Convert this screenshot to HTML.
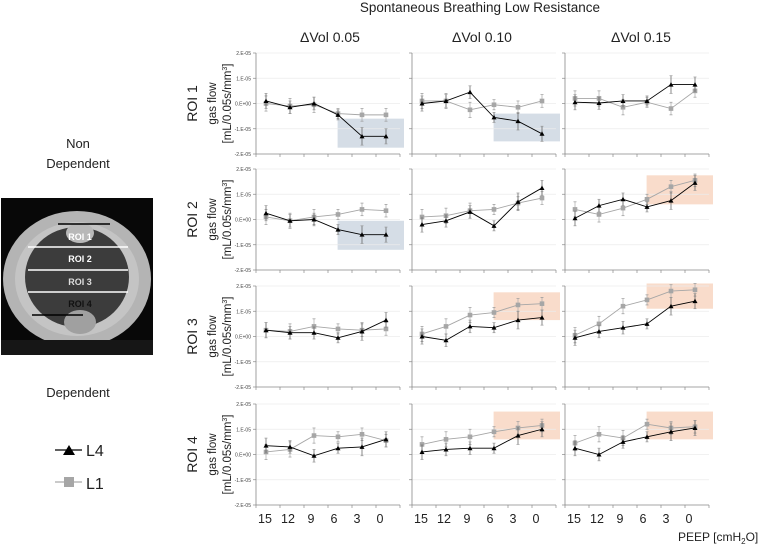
<!DOCTYPE html>
<html><head><meta charset="utf-8"><style>
body{margin:0;background:#fff;width:758px;height:548px;overflow:hidden;font-family:"Liberation Sans",sans-serif}
svg text{font-family:"Liberation Sans",sans-serif}
</style></head><body>
<svg id="fig" width="758" height="548" xmlns="http://www.w3.org/2000/svg">
<text x="480" y="12" font-size="13.5" text-anchor="middle" fill="#222">Spontaneous Breathing Low Resistance</text>
<text x="330" y="42" font-size="14" text-anchor="middle" fill="#222">ΔVol 0.05</text>
<text x="482" y="42" font-size="14" text-anchor="middle" fill="#222">ΔVol 0.10</text>
<text x="641" y="42" font-size="14" text-anchor="middle" fill="#222">ΔVol 0.15</text>
<text x="78" y="148" font-size="13" text-anchor="middle" fill="#222">Non</text>
<text x="78" y="168" font-size="13" text-anchor="middle" fill="#222">Dependent</text>
<text x="78" y="397" font-size="13" text-anchor="middle" fill="#222">Dependent</text>
<g>
<rect x="1" y="198" width="152" height="157" fill="#080808"/>
<ellipse cx="77" cy="279" rx="74" ry="68" fill="#b4b4b4"/>
<ellipse cx="77" cy="279" rx="62" ry="57" fill="#c4c4c4"/>
<ellipse cx="77" cy="277" rx="52" ry="50" fill="#3c3c3c"/>
<ellipse cx="80" cy="233" rx="14" ry="10" fill="#b8b8b8"/>
<ellipse cx="80" cy="322" rx="16" ry="12" fill="#a0a0a0"/>
<rect x="1" y="340" width="152" height="15" fill="#161616"/>
<line x1="58" y1="224" x2="110" y2="224" stroke="#000" stroke-width="1.5"/>
<line x1="28" y1="247" x2="128" y2="247" stroke="#fff" stroke-width="1.5"/>
<line x1="28" y1="270" x2="128" y2="270" stroke="#fff" stroke-width="1.5"/>
<line x1="28" y1="292" x2="128" y2="292" stroke="#fff" stroke-width="1.5"/>
<line x1="32" y1="315" x2="83" y2="315" stroke="#000" stroke-width="1.5"/>
<text x="80" y="240" font-size="9" font-weight="bold" fill="#fff" text-anchor="middle">ROI 1</text>
<text x="80" y="262" font-size="9" font-weight="bold" fill="#fff" text-anchor="middle">ROI 2</text>
<text x="80" y="285" font-size="9" font-weight="bold" fill="#ddd" text-anchor="middle">ROI 3</text>
<text x="80" y="307" font-size="9" font-weight="bold" fill="#111" text-anchor="middle">ROI 4</text>
</g>
<g>
<line x1="55" y1="450" x2="82" y2="450" stroke="#000" stroke-width="1.2"/>
<polygon points="63,455 69,445 75,455" fill="#000"/>
<text x="86" y="456" font-size="16" fill="#222">L4</text>
<line x1="55" y1="482" x2="82" y2="482" stroke="#aaa" stroke-width="1.2"/>
<rect x="64" y="477" width="10" height="10" fill="#a6a6a6"/>
<text x="86" y="489" font-size="16" fill="#222">L1</text>
</g>
<text x="678" y="541" font-size="12" fill="#222">PEEP [cmH<tspan font-size="8" dy="3">2</tspan><tspan dy="-3">O]</tspan></text>
</svg>
<script>
const peepLabels=["15","12","9","6","3","0"];
const yTicks=["2.E-05","1.E-05","0.E+00","-1.E-05","-2.E-05"];
const yTickVals=[2,1,0,-1,-2];
const rowNames=["ROI 1","ROI 2","ROI 3","ROI 4"];
// values in units of 1E-05, [row][col]
const l4Values=[
 [[0.1,-0.15,0,-0.45,-1.3,-1.3],[0,0.1,0.45,-0.55,-0.7,-1.2],[0.05,0.02,0.1,0.1,0.75,0.75]],
 [[0.25,-0.05,0,-0.4,-0.6,-0.6],[-0.2,-0.05,0.3,-0.25,0.7,1.25],[0.05,0.55,0.8,0.5,0.75,1.45]],
 [[0.25,0.15,0.15,-0.05,0.2,0.65],[0,-0.15,0.4,0.35,0.65,0.75],[-0.05,0.2,0.35,0.5,1.2,1.4]],
 [[0.35,0.3,-0.05,0.25,0.3,0.6],[0.1,0.2,0.25,0.25,0.75,1.0],[0.25,0,0.5,0.7,0.9,1.05]]];
const l1Values=[
 [[0,-0.1,-0.05,-0.4,-0.45,-0.45],[0.1,0.1,-0.25,-0.05,-0.15,0.1],[0.2,0.2,-0.15,0.05,-0.2,0.5]],
 [[0.1,-0.05,0.1,0.2,0.4,0.35],[0.1,0.15,0.35,0.4,0.65,0.85],[0.4,0.2,0.45,0.8,1.3,1.55]],
 [[0.25,0.2,0.4,0.3,0.25,0.3],[0.1,0.4,0.85,0.95,1.25,1.3],[0.05,0.5,1.2,1.45,1.8,1.85]],
 [[0.1,0.2,0.75,0.7,0.8,0.55],[0.4,0.6,0.7,0.9,1.05,1.15],[0.45,0.8,0.65,1.2,1.05,1.1]]];
const errL4=[0.3,0.25,0.25,0.2,0.35,0.3];
const errL1=[0.3,0.3,0.3,0.2,0.25,0.25];
// highlight boxes: [row,col,type,fromCat,yTop,yBottom] (type 0 blue,1 peach)
const boxes=[[0,0,0,3.4,-0.6,-1.75],[0,1,0,3.4,-0.4,-1.5],[1,0,0,3.4,-0.05,-1.2],[1,2,1,3.4,1.75,0.6],
 [2,1,1,3.4,1.75,0.65],[2,2,1,3.4,2.1,1.1],[3,1,1,3.4,1.7,0.6],[3,2,1,3.4,1.7,0.6]];

const NS="http://www.w3.org/2000/svg";
const svg=document.getElementById('fig');
const colX=[256,412,565], plotW=144;
const rowY=[53,169,286,404], plotH=101;
function el(t,a,p){const e=document.createElementNS(NS,t);for(const k in a)e.setAttribute(k,a[k]);(p||svg).appendChild(e);return e;}
function xs(c,i){return colX[c]+plotW/12*(2*i+1)-2;}
function ys(r,v){return rowY[r]+plotH/2-v*plotH/4;}

for(let r=0;r<4;r++){
 const cy=rowY[r]+plotH/2;
 const t1=el('text',{x:0,y:0,'font-size':14,'text-anchor':'middle',fill:'#222',transform:`translate(197,${cy}) rotate(-90)`});
 
 
 t1.textContent=rowNames[r];
 const t2=el('text',{x:0,y:0,'font-size':11.5,'text-anchor':'middle',fill:'#222',transform:`translate(216,${cy}) rotate(-90)`});
 
 
 t2.textContent='gas flow';
 const t3=el('text',{x:0,y:0,'font-size':11.5,'text-anchor':'middle',fill:'#222',transform:`translate(231,${cy}) rotate(-90)`});
 
 
 t3.innerHTML='[mL/0.05s/mm<tspan font-size="7" dy="-4">3</tspan><tspan dy="4">]</tspan>';
 for(let c=0;c<3;c++){
  const g=el('g',{});
  
  
  boxes.filter(b=>b[0]===r&&b[1]===c).forEach(b=>{
   const x0=colX[c]+plotW/6*b[3];
   const bx=el('rect',{x:x0,y:ys(r,b[4]),width:colX[c]+plotW+4-x0,height:ys(r,b[5])-ys(r,b[4]),fill:b[2]?'#f9dccb':'#d5dde6'},g);
   
   
  });
  yTickVals.forEach((v,k)=>{
   const y=ys(r,v);
   if(v>-2) el('line',{x1:colX[c],y1:y,x2:colX[c]+plotW,y2:y,stroke:'#ececec','stroke-width':0.8},g);
   el('line',{x1:colX[c]-3,y1:y,x2:colX[c],y2:y,stroke:'#888','stroke-width':0.7},g);
   if(c===0){const tl=el('text',{x:colX[c]-5,y:y+2,'font-size':5,'text-anchor':'end',fill:'#444'},g);
    
    
    tl.textContent=yTicks[k];}
  });
  el('line',{x1:colX[c],y1:rowY[r],x2:colX[c],y2:rowY[r]+plotH,stroke:'#888','stroke-width':0.8},g);
  el('line',{x1:colX[c],y1:rowY[r]+plotH,x2:colX[c]+plotW,y2:rowY[r]+plotH,stroke:'#888','stroke-width':0.8},g);
  for(let i=0;i<=6;i++) el('line',{x1:colX[c]+plotW/6*i,y1:rowY[r]+plotH,x2:colX[c]+plotW/6*i,y2:rowY[r]+plotH+3,stroke:'#888','stroke-width':0.7},g);
  [[l1Values,errL1,'#a6a6a6','l1'],[l4Values,errL4,'#000','l4']].forEach(([vals,err,col,nm])=>{
   const d=vals[r][c];
   const pts=d.map((v,i)=>xs(c,i)+','+ys(r,v)).join(' ');
   const pl=el('polyline',{points:pts,fill:'none',stroke:col,'stroke-width':0.9},g);
   
   
   d.forEach((v,i)=>{
    const x=xs(c,i),y=ys(r,v),e=err[i]*plotH/4;
    el('line',{x1:x,y1:y-e,x2:x,y2:y+e,stroke:col==='#000'?'#555':'#aaa','stroke-width':0.7},g);
    el('line',{x1:x-1.5,y1:y-e,x2:x+1.5,y2:y-e,stroke:'#999','stroke-width':0.7},g);
    el('line',{x1:x-1.5,y1:y+e,x2:x+1.5,y2:y+e,stroke:'#999','stroke-width':0.7},g);
    let m;
    if(nm==='l4') m=el('polygon',{points:`${x-2.5},${y+2} ${x},${y-2.5} ${x+2.5},${y+2}`,fill:'#000'},g);
    else m=el('rect',{x:x-2.3,y:y-2.3,width:4.6,height:4.6,fill:'#a6a6a6'},g);
    
    
   });
  });
  if(r===3){
   peepLabels.forEach((lb,i)=>{
    const t=el('text',{x:colX[c]+9+i*23,y:523,'font-size':12.5,'text-anchor':'middle',fill:'#222'},g);
    
    
    t.textContent=lb;
   });
  }
 }
}
</script>
</body></html>
